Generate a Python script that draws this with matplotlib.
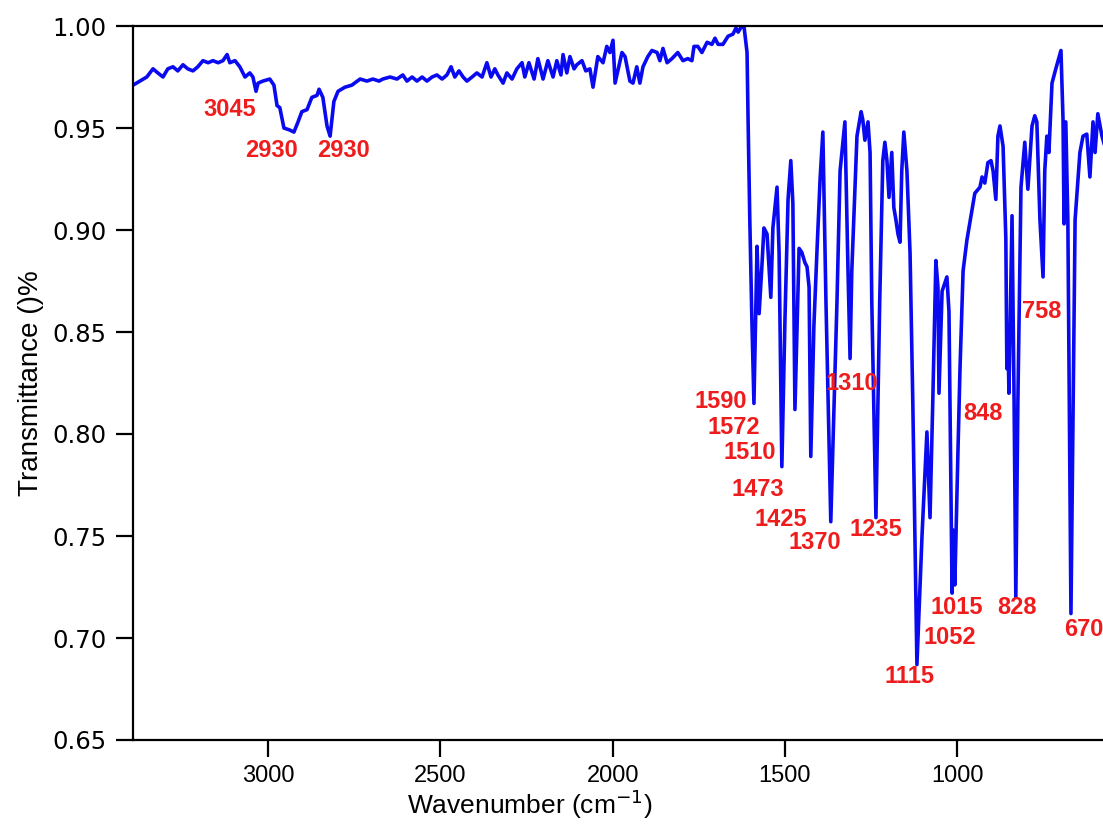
import matplotlib
matplotlib.use('Agg')
import matplotlib.pyplot as plt

# Espectro FTIR (numero de onda en cm-1, transmitancia)
wavenumber = [
    3392, 3372, 3352, 3334, 3320, 3305, 3291, 3276, 3262, 3247, 3233, 3218, 3204, 3189,
    3174, 3160, 3145, 3131, 3119, 3111, 3096, 3082, 3067, 3053, 3044, 3035, 3029, 3015,
    2995, 2983, 2974, 2966, 2954, 2937, 2925, 2913, 2902, 2887, 2873, 2858, 2852, 2841,
    2829, 2820, 2809, 2797, 2777, 2757, 2733, 2713, 2696, 2678, 2667, 2646, 2626, 2609,
    2597, 2582, 2568, 2553, 2539, 2524, 2510, 2495, 2481, 2469, 2458, 2446, 2434, 2423,
    2408, 2394, 2379, 2365, 2353, 2342, 2333, 2318, 2307, 2292, 2278, 2263, 2255, 2243,
    2228, 2217, 2202, 2188, 2173, 2162, 2150, 2144, 2133, 2124, 2112, 2104, 2089, 2078,
    2066, 2057, 2043, 2028, 2017, 2008, 1999, 1993, 1973, 1964, 1950, 1941, 1930, 1921,
    1912, 1898, 1886, 1871, 1863, 1854, 1842, 1828, 1811, 1796, 1782, 1770, 1764, 1753,
    1741, 1726, 1712, 1703, 1694, 1680, 1665, 1651, 1642, 1636, 1625, 1619, 1610, 1607,
    1602, 1596, 1590, 1581, 1575, 1567, 1561, 1552, 1541, 1535, 1523, 1517, 1509, 1500,
    1491, 1483, 1477, 1471, 1459, 1451, 1442, 1436, 1430, 1425, 1416, 1407, 1398, 1390,
    1381, 1367, 1349, 1340, 1326, 1317, 1311, 1306, 1297, 1291, 1279, 1274, 1268, 1259,
    1253, 1248, 1236, 1225, 1216, 1210, 1204, 1198, 1190, 1184, 1178, 1172, 1166, 1161,
    1155, 1146, 1137, 1129, 1117, 1102, 1088, 1079, 1071, 1062, 1056, 1053, 1044, 1030,
    1024, 1015, 1013, 1007, 998, 992, 983, 972, 957, 949, 934, 928, 920, 911,
    902, 896, 888, 882, 876, 867, 859, 856, 853, 850, 841, 835, 830, 824,
    815, 804, 795, 783, 775, 769, 760, 751, 746, 740, 734, 725, 714, 699,
    693, 690, 685, 679, 670, 658, 644, 635, 624, 615, 606, 600, 592, 580,
    570,
]
transmittance = [
    0.971, 0.973, 0.975, 0.979, 0.977, 0.975, 0.979, 0.980, 0.978, 0.981, 0.979, 0.978, 0.980, 0.983,
    0.982, 0.983, 0.982, 0.983, 0.986, 0.982, 0.983, 0.980, 0.975, 0.977, 0.975, 0.968, 0.972, 0.973,
    0.974, 0.971, 0.961, 0.960, 0.950, 0.949, 0.948, 0.953, 0.958, 0.959, 0.965, 0.966, 0.969, 0.965,
    0.951, 0.946, 0.963, 0.968, 0.970, 0.971, 0.974, 0.973, 0.974, 0.973, 0.974, 0.975, 0.974, 0.976,
    0.973, 0.975, 0.973, 0.975, 0.973, 0.975, 0.976, 0.974, 0.976, 0.980, 0.975, 0.978, 0.975, 0.973,
    0.975, 0.977, 0.975, 0.982, 0.975, 0.979, 0.976, 0.972, 0.977, 0.974, 0.979, 0.982, 0.975, 0.982,
    0.974, 0.984, 0.974, 0.983, 0.975, 0.983, 0.976, 0.986, 0.977, 0.985, 0.979, 0.981, 0.983, 0.978,
    0.979, 0.970, 0.985, 0.982, 0.990, 0.987, 0.993, 0.972, 0.987, 0.985, 0.973, 0.972, 0.980, 0.972,
    0.980, 0.985, 0.988, 0.987, 0.983, 0.989, 0.982, 0.984, 0.987, 0.983, 0.984, 0.983, 0.990, 0.990,
    0.987, 0.992, 0.991, 0.994, 0.991, 0.991, 0.995, 0.996, 0.999, 0.997, 1.000, 1.000, 0.987, 0.954,
    0.905, 0.856, 0.815, 0.892, 0.859, 0.882, 0.901, 0.898, 0.867, 0.901, 0.921, 0.889, 0.784, 0.856,
    0.915, 0.934, 0.913, 0.812, 0.891, 0.889, 0.884, 0.882, 0.872, 0.789, 0.853, 0.890, 0.925, 0.948,
    0.865, 0.757, 0.865, 0.929, 0.953, 0.880, 0.837, 0.880, 0.920, 0.946, 0.958, 0.954, 0.944, 0.953,
    0.938, 0.865, 0.759, 0.865, 0.934, 0.943, 0.934, 0.916, 0.938, 0.911, 0.905, 0.898, 0.894, 0.929,
    0.948, 0.929, 0.889, 0.816, 0.687, 0.751, 0.801, 0.759, 0.816, 0.885, 0.872, 0.820, 0.870, 0.877,
    0.860, 0.722, 0.753, 0.726, 0.791, 0.832, 0.880, 0.895, 0.910, 0.918, 0.921, 0.926, 0.923, 0.933,
    0.934, 0.929, 0.915, 0.946, 0.951, 0.941, 0.896, 0.832, 0.850, 0.820, 0.907, 0.816, 0.720, 0.816,
    0.921, 0.943, 0.920, 0.951, 0.956, 0.953, 0.905, 0.877, 0.929, 0.946, 0.938, 0.972, 0.979, 0.988,
    0.954, 0.903, 0.953, 0.905, 0.712, 0.905, 0.938, 0.946, 0.947, 0.926, 0.953, 0.938, 0.957, 0.946,
    0.940,
]

# Etiquetas de picos (texto, posicion x, posicion y)
peak_text = ['3045', '2930', '2930', '1590', '1572', '1510', '1473', '1425', '1370',
             '1310', '1235', '1115', '1052', '1015', '848', '828', '758', '670']
peak_x = [3111, 2989, 2780, 1686, 1648, 1602, 1578, 1512, 1413,
          1306, 1236, 1140, 1021, 1002, 925, 827, 754, 632]
peak_y = [0.959, 0.939, 0.939, 0.816, 0.803, 0.791, 0.773, 0.758, 0.747,
          0.825, 0.753, 0.681, 0.700, 0.715, 0.810, 0.715, 0.860, 0.704]

x_ticks = [3000, 2500, 2000, 1500, 1000]
y_ticks = [0.65, 0.70, 0.75, 0.80, 0.85, 0.90, 0.95, 1.00]

sans = ['Liberation Sans', 'DejaVu Sans']

fig = plt.figure(figsize=(11.03, 8.24), dpi=100)
ax = fig.add_axes([133 / 1103, 1 - 740 / 824, 1 - 133 / 1103, 714 / 824])

ax.plot(wavenumber, transmittance, color='#0a0af0', linewidth=2.6)

for txt, xx, yy in zip(peak_text, peak_x, peak_y):
    ax.text(xx, yy, txt, color='#ee1c1c', fontsize=17, fontweight='bold',
            family=sans, ha='center', va='center')

ax.set_xlim(3392, 577)
ax.set_ylim(0.65, 1.00)
ax.set_xticks(x_ticks)
ax.set_yticks(y_ticks)
ax.set_yticklabels([f'{v:.2f}' for v in y_ticks], family='DejaVu Sans', fontsize=17.5)
ax.set_xticklabels([str(v) for v in x_ticks], family=sans, fontsize=17)

ax.tick_params(axis='both', direction='out', length=12, width=1.6, pad=7)
ax.tick_params(axis='x', pad=6)

ax.spines['right'].set_visible(False)
for s in ['left', 'bottom', 'top']:
    ax.spines[s].set_linewidth(1.6)

ax.set_xlabel('Wavenumber (cm$^{-1}$)', family=sans, fontsize=19)
ax.xaxis.set_label_coords(0.409, -0.066)
ax.set_ylabel('Transmittance ()%', family=sans, fontsize=20, labelpad=6)

fig.savefig('out.png', dpi=100)
